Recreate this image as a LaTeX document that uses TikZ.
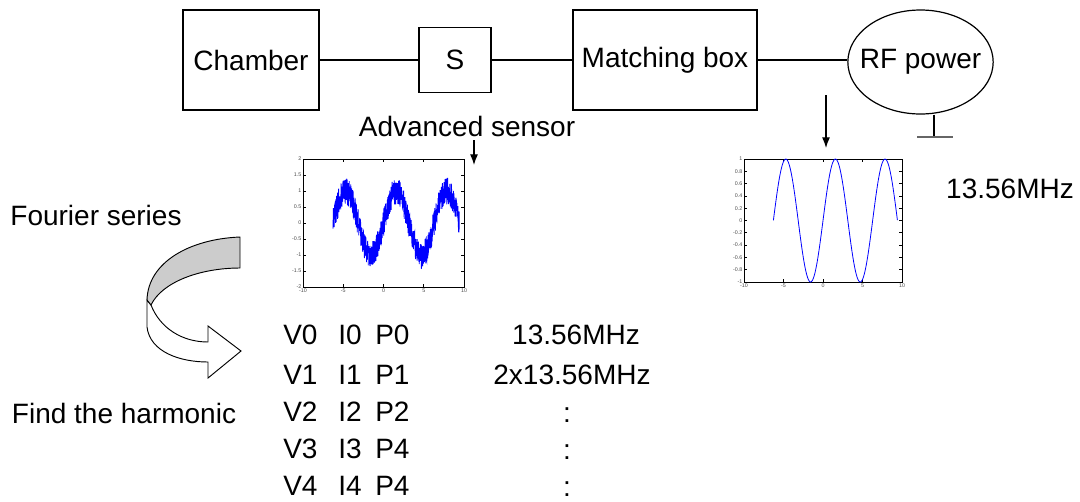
\documentclass[tikz,border=0pt]{standalone}
\usepackage{fontspec}
\setmainfont{Liberation Sans}
\usetikzlibrary{arrows.meta,shapes.geometric}

\begin{document}
\begin{tikzpicture}[x=0.75pt,y=-0.75pt,
  every node/.style={font=\fontsize{21}{25}\selectfont,inner sep=0pt},
  blk/.style={draw,line width=0.9pt},
  wire/.style={line width=0.9pt},
  arr/.style={line width=0.9pt,-{Latex[length=8pt,width=6pt]}},
  ticklbl/.style={font=\fontsize{4}{4}\selectfont,inner sep=1pt,text=black!70},
  axbox/.style={line width=0.6pt},
  sig/.style={blue,line width=0.6pt}]
  \useasboundingbox (0,0) rectangle (1080,501);

  % plasma system
  \node[blk,minimum width=102pt,minimum height=75pt] (chamber) at (251,60) {Chamber};
  \node[blk,minimum width=54pt,minimum height=49pt] (sens) at (455,60) {S};
  \node[blk,minimum width=138pt,minimum height=75pt] (match) at (665,60) {Matching box};
  \node[blk,ellipse,inner xsep=-8pt,minimum width=109pt,minimum height=78pt] (rf) at (920.5,62) {RF power};
  \draw[wire] (chamber.east) -- (chamber.east -| sens.west);
  \draw[wire] (sens.east) -- (sens.east -| match.west);
  \draw[wire] (match.east) -- (match.east -| rf.west);

  % ground
  \coordinate (gnd) at (934,137);
  \coordinate (gndl) at (917,137);
  \coordinate (gndr) at (953,137);
  \draw[wire] (gnd |- rf.south) -- (gnd);
  \draw[line width=1.2pt,black!60] (gndl) -- (gndr);

  % arrows to the plots
  \node (advlbl) at (467,126) {Advanced sensor};
  \coordinate (senstop) at (474,140);
  \coordinate (sensbot) at (474,165);
  \draw[arr] (senstop) -- (sensbot);
  \coordinate (rftop) at (826,95);
  \coordinate (rfbot) at (826,148);
  \draw[arr] (rftop) -- (rfbot);

  % measured signal
  \begin{scope}[shift={(383.5,223)},x=6.04pt,y=24pt]
    \draw[axbox] (-10,-2) rectangle (10,2);
    \foreach \t [count=\k] in {-10,-5,0,5,10} {
      \draw[axbox] (\t,-2) -- (\t,-1.9) (\t,2) -- (\t,1.9);
      \node[ticklbl,anchor=north] (xa\k) at (\t,-2) {\t};
    }
    \foreach \t [count=\k] in {-2,-1.5,-1,-0.5,0,0.5,1,1.5,2} {
      \draw[axbox] (-10,\t) -- (-9.6,\t) (10,\t) -- (9.6,\t);
      \node[ticklbl,anchor=east] (ya\k) at (-10,\t) {\t};
    }
    \pgfmathsetseed{7}
    \draw[sig] plot[domain=-6.28:9.42,samples=900] (\x,{sin(\x r)+0.42*rand});
  \end{scope}

  % source signal
  \begin{scope}[shift={(823,220.5)},x=5.925pt,y=46.1pt]
    \draw[axbox] (-10,-1) rectangle (10,1);
    \foreach \t [count=\k] in {-10,-5,0,5,10} {
      \draw[axbox] (\t,-1) -- (\t,-0.95) (\t,1) -- (\t,0.95);
      \node[ticklbl,anchor=north] (xb\k) at (\t,-1) {\t};
    }
    \foreach \t [count=\k] in {-1,-0.8,-0.6,-0.4,-0.2,0,0.2,0.4,0.6,0.8,1} {
      \draw[axbox] (-10,\t) -- (-9.6,\t) (10,\t) -- (9.6,\t);
      \node[ticklbl,anchor=east] (yb\k) at (-10,\t) {\t};
    }
    \draw[sig] plot[domain=-6.28:9.42,samples=200] (\x,{sin(\x r)});
  \end{scope}
  \node (hf) at (1010,189) {13.56MHz};

  % curved arrow
  \draw[line width=0.7pt,fill=white] (147,300) -- (147,327)
    .. controls (150,352) and (180,362) .. (208,362) -- (208,378) -- (241,351)
    -- (208,326) -- (208,342) .. controls (182,342) and (160,328) .. (151,305) -- cycle;
  \draw[line width=0.7pt,fill=black!20] (240,237)
    .. controls (190,239) and (148,262) .. (147,300) -- (151,305)
    .. controls (162,282) and (200,268) .. (240,268) -- cycle;
  \node (fs) at (96,215) {Fourier series};
  \node (fh) at (124,413) {Find the harmonic};

  % harmonics
  \foreach \i/\y/\p in {0/335/0,1/375/1,2/412/2,3/449/4,4/486/4} {
    \node[anchor=west] (v\i) at (283,\y) {V\i};
    \node[anchor=west] (c\i) at (338,\y) {I\i};
    \node[anchor=west] (p\i) at (375,\y) {P\p};
  }
  \node (f0) at (576,335) {13.56MHz};
  \node (f1) at (572,375) {2x13.56MHz};
  \foreach \i/\y in {2/412,3/449,4/486}
    \node (f\i) at (567,\y+3) {:};
\end{tikzpicture}
\end{document}
